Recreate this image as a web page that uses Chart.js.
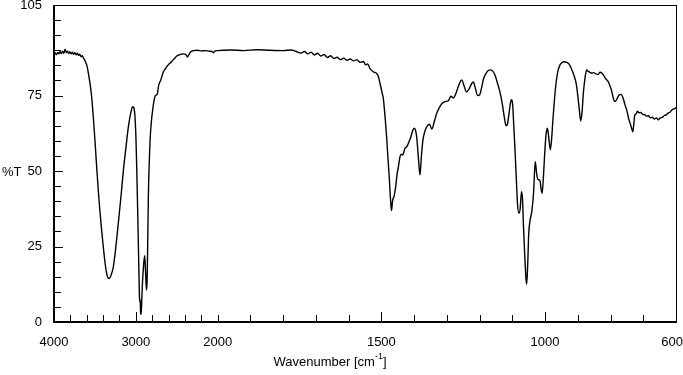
<!DOCTYPE html>
<html><head><meta charset="utf-8">
<script src="https://cdn.jsdelivr.net/npm/chart.js@4/dist/chart.umd.min.js"></script>
<style>html,body{margin:0;padding:0;background:#fff}</style>
</head><body>
<canvas id="c" width="683" height="375"></canvas>
<script>
// ---- data ----
const wavenumbers = [
4000,3985,3970,3955,3940,3925,3910,3895,3880,3865,3850,3835,3820,3805,3790,3775,3760,3745,3730,3715,
3700,3685,3670,3655,3640,3625,3610,3595,3580,3560,3540,3520,3500,3480,3460,3440,3420,3400,3380,3360,
3340,3325,3310,3290,3275,3250,3214,3180,3152,3120,3091,3060,3040,3025,3012,3000,2990,2980,2970,2962,
2956,2951,2947,2942,2937,2930,2920,2905,2892,2882,2870,2862,2855,2847,2836,2826,2810,2793,2780,2765,
2750,2737,2725,2712,2700,2680,2663,2640,2622,2600,2580,2561,2530,2500,2460,2419,2390,2370,2355,2330,
2296,2250,2200,2150,2100,2070,2052,2035,2000,1960,1920,1880,1840,1800,1775,1760,1745,1735,1725,1715,
1705,1695,1685,1675,1665,1655,1645,1635,1625,1615,1605,1595,1585,1575,1565,1555,1548,1542,1535,1525,
1515,1510,1504,1498,1494,1488,1484,1480,1476,1472,1469,1466,1461,1456,1452,1448,1443,1439,1435,1428,
1422,1416,1410,1404,1400,1396,1392,1387,1382,1378,1373,1367,1361,1353,1346,1338,1331,1323,1315,1305,
1295,1288,1280,1273,1265,1259,1254,1248,1240,1232,1224,1219,1213,1206,1200,1194,1188,1182,1175,1168,
1160,1153,1145,1137,1130,1124,1119,1115,1110,1105,1102,1099,1096,1092,1088,1084,1080,1076,1072,1069,
1066,1062,1058,1056,1053,1050,1046,1040,1035,1030,1026,1022,1016,1012,1009,1005,1001,997,993,989,
984,980,976,971,966,961,955,949,942,934,926,918,911,905,900,895,891,887,883,878,
873,868,863,857,851,845,838,832,826,820,814,807,801,796,790,786,780,774,768,762,
756,750,745,740,735,732,729,726,722,718,713,708,702,696,690,684,678,672,666,660,
654,648,642,636,630,624,618,612,606,600
];
const transmittance = [
88.4,89.1,88.5,89.3,88.8,89.6,88.9,89.7,89.0,90.4,89.2,89.7,88.9,89.5,88.8,89.4,88.7,89.2,88.5,89.0,
88.3,88.7,87.9,88.2,87.4,86.8,85.8,84.6,82.4,79.0,74.6,68.0,60.3,52.0,44.0,37.0,31.0,25.5,20.5,16.5,
14.6,14.4,15.0,16.6,18.3,23.5,32.8,42.0,50.3,58.0,64.7,69.5,71.3,71.0,68.5,62.0,52.0,40.0,27.0,16.0,
8.5,6.5,7.5,3.0,2.5,5.5,12.5,19.0,22.0,17.0,10.5,14.0,26.0,41.5,53.0,60.3,66.5,70.5,73.0,74.8,
75.2,75.5,77.8,79.2,79.8,81.5,82.9,83.8,84.6,85.3,85.8,86.3,87.2,88.1,88.6,88.8,88.6,87.8,88.4,89.5,
89.9,90.0,89.8,89.9,89.7,89.6,89.2,89.7,89.9,90.1,89.9,90.2,90.0,89.9,90.1,89.6,89.1,89.6,88.8,89.4,
88.5,89.0,88.1,88.6,87.6,88.2,87.3,87.7,86.9,87.4,86.7,87.1,86.5,86.9,86.0,86.3,85.2,85.5,84.0,82.9,
82.4,81.6,79.0,76.0,74.0,67.0,61.4,54.5,48.1,40.5,36.9,40.0,41.8,45.0,49.0,51.4,54.8,55.6,55.3,57.5,
58.1,59.6,61.3,63.5,64.2,63.6,61.2,54.5,48.7,54.5,60.3,63.2,64.7,65.5,63.9,66.5,69.1,71.0,72.4,73.0,
73.3,74.8,74.2,75.5,78.0,79.6,80.2,78.4,76.2,77.2,79.0,79.5,77.5,75.0,75.2,77.5,80.5,82.0,83.1,83.5,
83.1,81.8,79.0,75.8,71.8,67.5,65.0,65.5,69.0,73.0,73.6,72.0,66.0,57.5,48.0,39.0,36.0,37.5,43.2,41.0,
32.0,22.0,14.0,12.6,19.0,29.0,33.5,37.0,43.0,53.1,49.5,47.2,47.0,44.0,42.6,48.0,56.0,62.0,64.2,61.5,
57.0,60.5,67.0,74.0,79.5,83.0,85.0,85.9,86.2,86.0,85.3,83.5,81.5,79.0,75.0,70.0,66.6,69.5,75.8,80.8,
83.5,83.0,82.7,82.4,82.6,82.2,82.0,82.7,82.4,81.5,80.5,79.6,78.0,76.3,73.5,73.0,74.0,75.2,75.4,74.3,
72.0,70.0,67.5,65.8,64.0,63.0,65.5,68.5,68.9,69.8,69.3,69.4,68.8,68.7,68.2,68.3,67.6,67.8,67.2,67.6,
67.0,67.6,67.8,68.4,68.6,69.2,69.5,70.3,70.6,71.0
];
const xTickLabels = [4000,3000,2000,1500,1000,600];
const xMinorTicks = [3800,3600,3400,3200,2800,2600,2400,2200,2000,1900,1800,1700,1600,1400,1300,1200,1100,900,800,700];
const xMajorTicks = [3000,1500,1000];
const yTickLabels = [0,25,50,75,105];
const yMinorTicks = [5,10,15,20,30,35,40,45,55,60,65,70,80,85,90,95,100];
const yMajorTicks = [25,50,75];
const yTitle = '%T';
const xTitleMain = 'Wavenumber [cm';
const xTitleSup = '-1';
const xTitleEnd = ']';

// spectrometer-style split axis: 4000-2000 compressed 4x
function toAxis(wn){ return wn <= 2000 ? wn : 2000 + (wn - 2000) / 4; }

const points = wavenumbers.map((w,i)=>({x:toAxis(w), y:transmittance[i]}));
const FONT = '"Liberation Sans", Arial, sans-serif';
const lastLabel = xTickLabels[xTickLabels.length-1];

const decor = {
  id:'decor',
  afterDraw(chart){
    const {ctx, chartArea:a, scales:{x,y}} = chart;
    ctx.save();
    ctx.strokeStyle = '#000';
    ctx.lineWidth = 1;
    ctx.beginPath();
    xMinorTicks.forEach(w=>{ const p=Math.round(x.getPixelForValue(toAxis(w)))+0.5; ctx.moveTo(p,a.bottom); ctx.lineTo(p,a.bottom-7); });
    xMajorTicks.forEach(w=>{ const p=Math.round(x.getPixelForValue(toAxis(w)))+0.5; ctx.moveTo(p,a.bottom); ctx.lineTo(p,a.bottom-10); });
    yMinorTicks.forEach(v=>{ const p=Math.round(y.getPixelForValue(v))+0.5; ctx.moveTo(a.left,p); ctx.lineTo(a.left+7,p); });
    yMajorTicks.forEach(v=>{ const p=Math.round(y.getPixelForValue(v))+0.5; ctx.moveTo(a.left,p); ctx.lineTo(a.left+9,p); });
    ctx.stroke();
    // frame
    ctx.lineWidth = 1;
    ctx.strokeRect(Math.round(a.left)+0.5, Math.round(a.top)+0.5, Math.round(a.right-a.left), Math.round(a.bottom-a.top));
    ctx.lineWidth = 2;
    ctx.beginPath();
    ctx.moveTo(a.left, a.top); ctx.lineTo(a.left, a.bottom); ctx.lineTo(a.right, a.bottom);
    ctx.stroke();
    // last x label kept inside the canvas
    ctx.fillStyle = '#000';
    ctx.font = '13px ' + FONT;
    ctx.textBaseline = 'middle';
    const lw = ctx.measureText(String(lastLabel)).width;
    const lp = Math.min(x.getPixelForValue(toAxis(lastLabel)) + lw/2, chart.width);
    ctx.textAlign = 'right';
    ctx.fillText(String(lastLabel), lp, a.bottom + 20);
    // titles
    ctx.textAlign = 'left';
    ctx.fillText(yTitle, 2, y.getPixelForValue(50)+1);
    const w1 = ctx.measureText(xTitleMain).width;
    ctx.font = '9px ' + FONT;
    const w2 = ctx.measureText(xTitleSup).width;
    ctx.font = '13px ' + FONT;
    const w3 = ctx.measureText(xTitleEnd).width;
    const cx = 330, cy = 362;
    let sx = cx - (w1+w2+w3)/2;
    ctx.fillText(xTitleMain, sx, cy);
    ctx.font = '9px ' + FONT;
    ctx.fillText(xTitleSup, sx+w1, cy-5);
    ctx.font = '13px ' + FONT;
    ctx.fillText(xTitleEnd, sx+w1+w2, cy);
    ctx.restore();
  }
};

new Chart(document.getElementById('c'), {
  type:'line',
  data:{ datasets:[{ data:points, borderColor:'#000', borderWidth:1.4, pointRadius:0, fill:false, cubicInterpolationMode:'monotone' }] },
  options:{
    responsive:false, animation:false, devicePixelRatio:1,
    layout:{padding:{top:5, right:7, left:0, bottom:0}},
    plugins:{legend:{display:false}, tooltip:{enabled:false}},
    scales:{
      x:{
        type:'linear', min:toAxis(600), max:toAxis(4000), reverse:true,
        afterBuildTicks:s=>{ s.ticks = xTickLabels.map(w=>({value:toAxis(w)})); },
        afterFit:s=>{ s.height = 53; s.paddingLeft = 0; s.paddingRight = 0; },
        grid:{display:false, drawTicks:false}, border:{display:false},
        ticks:{autoSkip:false, maxRotation:0, padding:13, color:'#000', font:{family:FONT, size:13},
          callback:(v)=>{ const w = xTickLabels.find(t=>Math.abs(toAxis(t)-v)<1e-6); return (w===undefined||w===lastLabel)?'':String(w); } }
      },
      y:{
        type:'linear', min:0, max:105,
        afterBuildTicks:s=>{ s.ticks = yTickLabels.map(v=>({value:v})); },
        afterFit:s=>{ s.width = 54; s.paddingTop = 0; s.paddingBottom = 0; },
        grid:{display:false, drawTicks:false}, border:{display:false},
        ticks:{autoSkip:false, padding:12, color:'#000', font:{family:FONT, size:13}}
      }
    }
  },
  plugins:[decor]
});
</script>
</body></html>
